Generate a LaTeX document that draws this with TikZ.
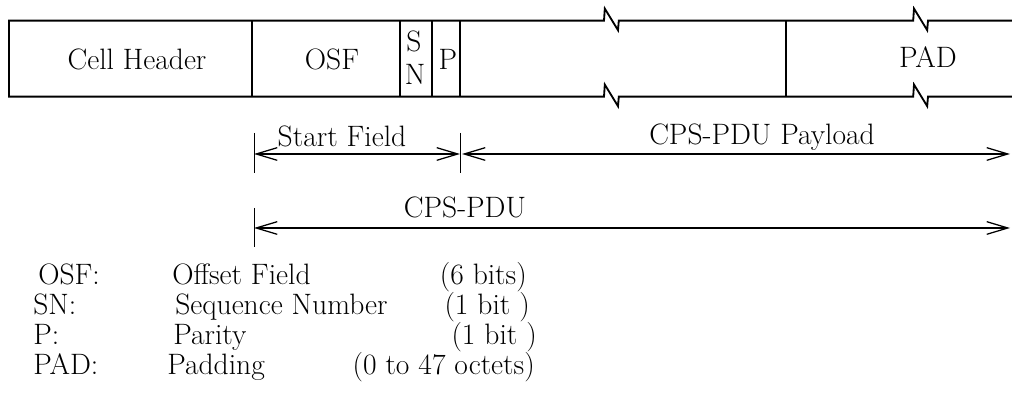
\documentclass[tikz,border=0pt]{standalone}
\usepackage{fontspec}
\usetikzlibrary{arrows.meta}

\tikzset{
  lbl/.style={font=\fontsize{21}{25}\selectfont, inner sep=0pt, anchor=base},
  key/.style={lbl, anchor=base west},
  size/.style={lbl, anchor=base east},
  frame/.style={line width=1.3pt, line join=miter},
  tick/.style={line width=0.6pt},
  span/.style={line width=0.9pt,
    {Straight Barb[length=15pt,width=9pt]}-{Straight Barb[length=15pt,width=9pt]}}
}

\begin{document}
\begin{tikzpicture}
\useasboundingbox (0,0) rectangle (25.3,10.475);

% cell outline, open to the right, with two breaks:
\draw[frame] (25.3,9.96) -- (23.2,9.96) -- ++(-0.02,-0.24) -- ++(-0.33,0.54) -- ++(-0.02,-0.3)
  -- (15.47,9.96) -- ++(-0.02,-0.24) -- ++(-0.33,0.54) -- ++(-0.02,-0.3)
  -- (0.225,9.96) coordinate(X) -- ++(0,-1.9)
  -- (15.1,8.06) -- ++(0.02,0.3) -- ++(0.33,-0.54) -- ++(0.02,0.24)
  -- (22.83,8.06) -- ++(0.02,0.3) -- ++(0.33,-0.54) -- ++(0.02,0.24) -- (25.3,8.06);

% field borders:
\draw[frame] (6.3,9.96) -- (6.3,8.06);
\draw[frame] (10.01,9.96) -- (10.01,8.06);
\draw[frame] (10.8,9.96) -- (10.8,8.06);
\draw[frame] (11.51,9.96) -- (11.51,8.06);
\draw[frame] (19.65,9.96) -- (19.65,8.06);

% fields:
\node[lbl] (hdr) at (3.425,8.725) {Cell Header};
\node[lbl] (osf) at (8.3,8.725) {OSF};
\node[lbl] (sn-s) at (10.35,9.175) {S};
\node[lbl] (sn-n) at (10.375,8.35) {N};
\node[lbl] (par) at (11.2,8.725) {P};
\node[lbl] (pad) at (23.2,8.775) {PAD};

% spans:
\coordinate (sf-a) at (6.35,6.625);
\coordinate (sf-b) at (11.5,6.625);
\coordinate (pl-b) at (25.25,6.625);
\coordinate (pdu-a) at (6.35,4.775);
\coordinate (pdu-b) at (25.25,4.775);

\draw[tick] (sf-a) ++(0,0.525) -- ++(0,-1);
\draw[tick] (sf-b) ++(0,0.525) -- ++(0,-1);
\draw[tick] (pdu-a) ++(0,0.5) -- ++(0,-0.975);

\draw[span] (sf-a) -- (sf-b);
\draw[span] ([xshift=0.05cm]sf-b) -- (pl-b);
\draw[span] (pdu-a) -- (pdu-b);

\node[lbl] (sf-lbl) at (8.55,6.8) {Start Field};
\node[lbl] (pl-lbl) at (19.05,6.85) {CPS-PDU Payload};
\node[lbl] (pdu-lbl) at (11.625,5.025) {CPS-PDU};

% key:
\node[key] (k-osf) at (0.95,3.35) {OSF:};
\node[key] (d-osf) at (4.3,3.35) {Offset Field};
\node[size] (n-osf) at (13.175,3.35) {(6 bits)};

\node[key] (k-sn) at (0.825,2.6) {SN:};
\node[key] (d-sn) at (4.375,2.6) {Sequence Number};
\node[size] (n-sn) at (13.25,2.6) {(1 bit )};

\node[key] (k-p) at (0.825,1.85) {P:};
\node[key] (d-p) at (4.325,1.85) {Parity};
\node[size] (n-p) at (13.425,1.85) {(1 bit )};

\node[key] (k-pad) at (0.825,1.1) {PAD:};
\node[key] (d-pad) at (4.175,1.1) {Padding};
\node[size] (n-pad) at (13.375,1.1) {(0 to 47 octets)};

\end{tikzpicture}
\end{document}
